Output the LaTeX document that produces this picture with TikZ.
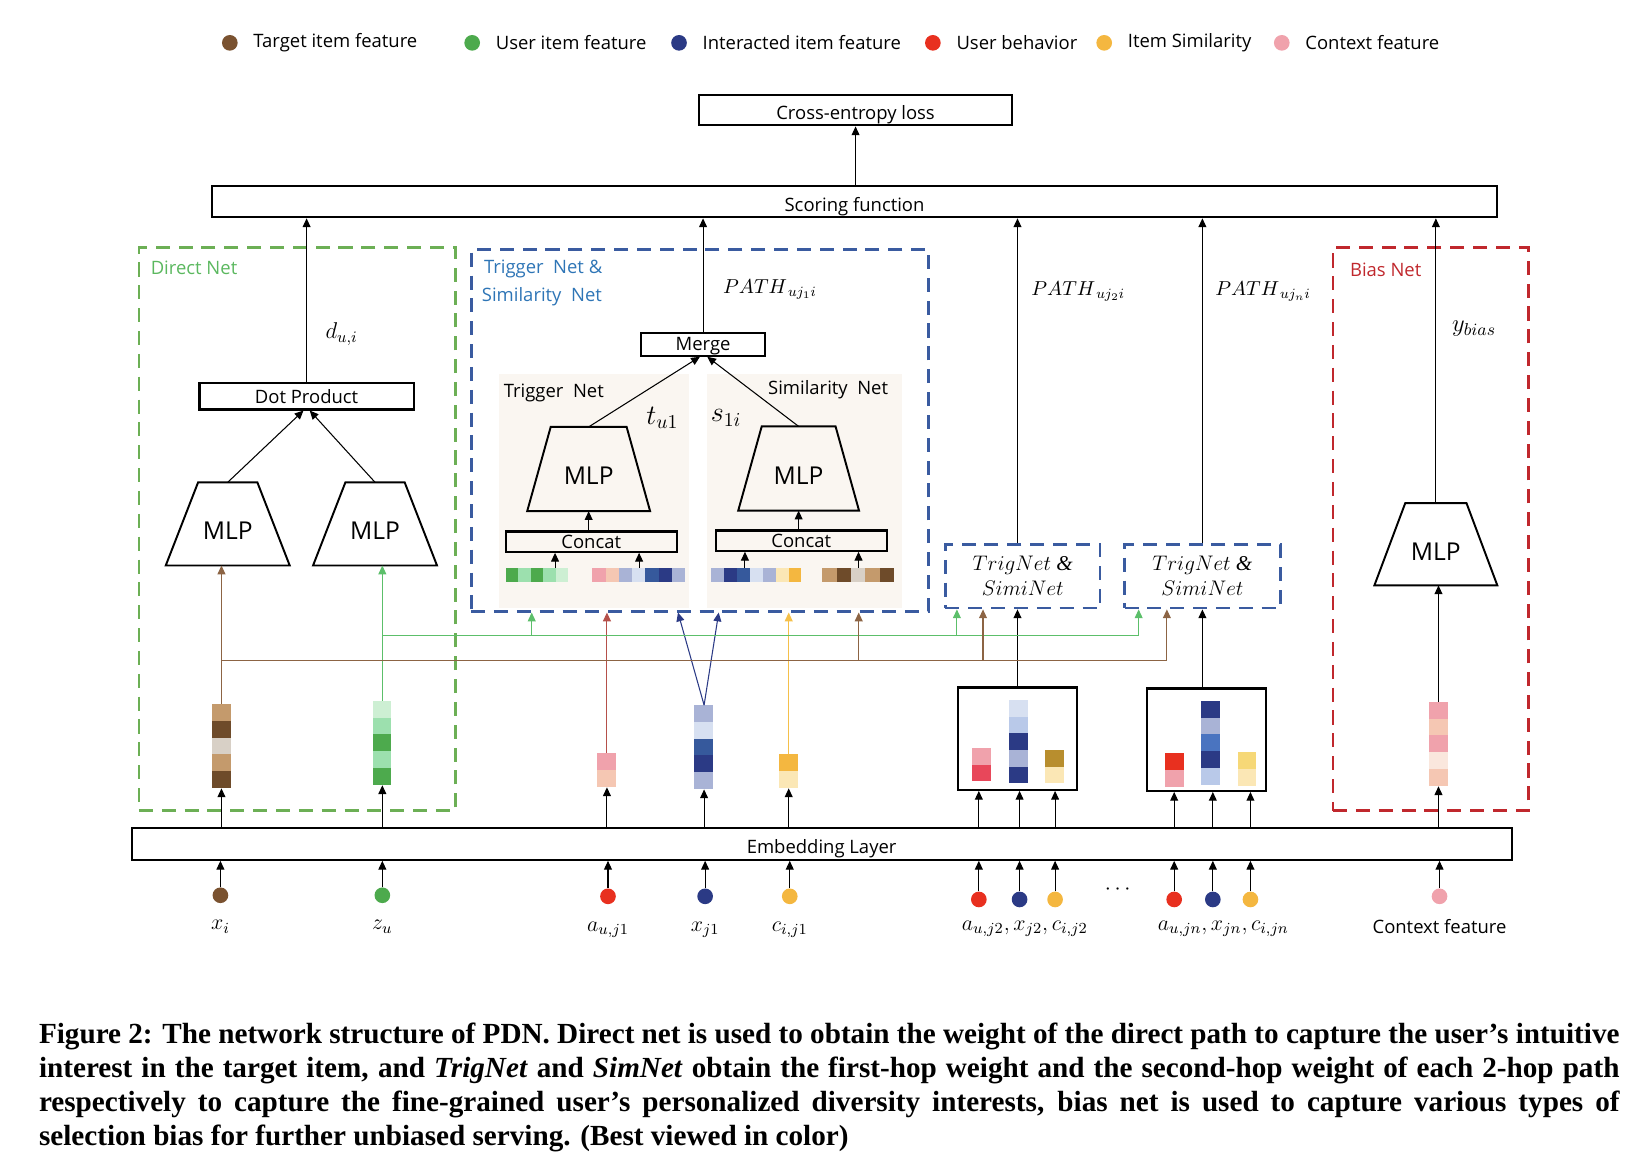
\RequirePackage{fix-cm}
\documentclass[tikz,border=0pt]{standalone}
\usepackage{fontspec}
\setmainfont{Liberation Serif}
\setsansfont{Open Sans}
\usetikzlibrary{arrows.meta,positioning,shapes.geometric,calc}

\newlength\px
\setlength\px{0.020893cm}

\definecolor{cDBrown}{HTML}{6E4B2A}
\definecolor{cLBrown}{HTML}{C49A6C}
\definecolor{cLGray}{HTML}{D8D0C6}
\definecolor{cGreen}{HTML}{4DAA4D}
\definecolor{cLGreen}{HTML}{9CE0AE}
\definecolor{cVLGreen}{HTML}{CDEFD3}
\definecolor{cNavy}{HTML}{2B3A85}
\definecolor{cBlue}{HTML}{36599C}
\definecolor{cMBlue}{HTML}{4A74C0}
\definecolor{cLav}{HTML}{A9B3D6}
\definecolor{cSky}{HTML}{B9C9E9}
\definecolor{cVLBlue}{HTML}{D7E0F1}
\definecolor{cRed}{HTML}{E8301F}
\definecolor{cRose}{HTML}{E8475A}
\definecolor{cOrange}{HTML}{F4B740}
\definecolor{cGold}{HTML}{B88E2E}
\definecolor{cSand}{HTML}{F6D877}
\definecolor{cLYellow}{HTML}{FBE7B5}
\definecolor{cPink}{HTML}{F0A2AC}
\definecolor{cPeach}{HTML}{F5C7B3}
\definecolor{cVLPeach}{HTML}{FAE7DD}
\definecolor{cBrownDot}{HTML}{7A5230}
\definecolor{cGreenL}{HTML}{5CBF6A}
\definecolor{cBrownL}{HTML}{8C6444}
\definecolor{cRedL}{HTML}{B5504A}
\definecolor{cOrangeL}{HTML}{F5C04A}
\definecolor{cDirect}{HTML}{6CAF55}
\definecolor{cDirectT}{HTML}{5BB85F}
\definecolor{cTrig}{HTML}{3A5BA0}
\definecolor{cTrigT}{HTML}{2E75B6}
\definecolor{cBias}{HTML}{C0282D}
\definecolor{cBg}{HTML}{FAF6F1}

\tikzset{
  lbl/.style={font=\sffamily\fontsize{10.5}{12}\selectfont},
  box/.style={draw, line width=1.2pt, inner sep=0pt, lbl, text height=9.5pt, text depth=2pt},
  widebox/.style={box, text height=12pt, text depth=1pt},
  mlp/.style={inner sep=0pt, text height=18pt, text depth=0pt,
    font=\sffamily\fontsize{14}{16}\selectfont},
  arr/.style={-{Triangle[length=5pt,width=4.5pt]}, line width=0.6pt},
  netbox/.style={draw, dash pattern=on 8pt off 5pt, line width=1.6pt, inner sep=0pt},
  dot/.style={circle, inner sep=0pt, minimum size=15*\px},
  mth/.style={font=\fontsize{12.5}{14}\selectfont, inner sep=0pt},
  bgbox/.style={fill=cBg, inner sep=0pt},
}

% trapezoid outline of an MLP node: name, inset of the top corners
\newcommand{\mlpshape}[2]{%
  \draw[line width=1.1pt] (#1.south west) -- (#1.south east)
    -- ([xshift=-#2*\px]#1.north east) -- ([xshift=#2*\px]#1.north west) -- cycle;
}
% vertical embedding: name, x, top, cells, colours
\newcommand{\vstack}[5]{%
  \node[inner sep=0pt, minimum width=18*\px, minimum height={#4*16*\px}, anchor=north] (#1) at (#2,#3) {};
  \foreach \c [count=\k from 0] in {#5}
    \fill[\c] ($(#1.north west)+(0,\k*16)$) rectangle ++(18,16);
}
% horizontal embedding: name, left, y, cells, cell width, colours
\newcommand{\hstack}[6]{%
  \node[inner sep=0pt, minimum width={#4*#5*\px}, minimum height=13*\px, anchor=west] (#1) at (#2,#3) {};
  \foreach \c [count=\k from 0] in {#6}
    \fill[\c] ($(#1.north west)+(\k*#5,0)$) rectangle ++(#5,13);
}

\begin{document}
\begin{tikzpicture}[x=0.020893cm, y=-0.020893cm]
  \useasboundingbox (0,0) rectangle (1568,1110);

  % legend
  \foreach \x/\c/\t [count=\i] in {220/cBrownDot/Target item feature,
      452/cGreen/User item feature, 650/cNavy/Interacted item feature,
      893/cRed/User behavior, 1057/cOrange/Item Similarity, 1227/cPink/Context feature} {
    \node[dot, fill=\c] (lg\i) at (\x,41) {};
    \node[lbl, inner sep=0pt, right=8.6pt of lg\i] (lt\i) {\t};
  }

  % top of the network
  \node[widebox, minimum width=300*\px, minimum height=29*\px] (loss) at (819,105.5) {Cross-entropy loss};
  \node[widebox, minimum width=1230*\px, minimum height=30*\px] (score) at (818,193) {Scoring function};
  \node[widebox, minimum width=1321*\px, minimum height=30*\px] (emb) at (786.5,808) {Embedding Layer};
  \draw[arr] (score.north -| loss) -- (loss.south);

  % direct net
  \node[netbox, draw=cDirect, minimum width=303*\px, minimum height=539*\px] (dnet) at (284.5,506.5) {};
  \node[lbl, text=cDirectT, anchor=west, inner sep=0pt] (dnetlbl) at (144,256) {Direct Net};
  \node[box, minimum width=205*\px, minimum height=25*\px] (dotp) at (293.5,379.5) {Dot Product};
  \node[mlp, minimum width=118*\px, minimum height=79*\px] (mlpA) at (218,501.5) {MLP};
  \node[mlp, minimum width=118*\px, minimum height=79*\px] (mlpB) at (359,501.5) {MLP};
  \mlpshape{mlpA}{31}
  \mlpshape{mlpB}{31}
  \node[mth, font=\fontsize{13}{15}\selectfont] (dui) at (327,320) {$d_{u,i}$};
  \draw[arr] (dotp.north) -- (dotp.north |- score.south);
  \draw[arr] (mlpA.north) -- ([xshift=-3*\px]dotp.south);
  \draw[arr] (mlpB.north) -- ([xshift=3*\px]dotp.south);
  \vstack{vA}{212}{674}{5}{cLBrown,cDBrown,cLGray,cLBrown,cDBrown}
  \vstack{vB}{366}{671}{5}{cVLGreen,cLGreen,cGreen,cLGreen,cGreen}
  \draw[arr, cBrownL] (vA.north) -- (vA.north |- mlpA.south);
  \draw[arr, cGreenL] (vB.north) -- (vB.north |- mlpB.south);

  % trigger net & similarity net
  \node[bgbox, minimum width=182*\px, minimum height=224*\px] (tbg) at (569,470) {};
  \node[bgbox, minimum width=186*\px, minimum height=224*\px] (sbg) at (770,470) {};
  \node[netbox, draw=cTrig, minimum width=438*\px, minimum height=346*\px] (tnet) at (670,412) {};
  \node[lbl, text=cTrigT, anchor=west, inner sep=0pt] (tnetlbl) at (463,257) {Trigger~ Net \&};
  \node[lbl, text=cTrigT, anchor=west, inner sep=0pt] (snetlbl) at (461,284) {Similarity~ Net};
  \node[lbl, anchor=west, inner sep=0pt] (tbglbl) at (482,376) {Trigger~ Net};
  \node[lbl, anchor=west, inner sep=0pt] (sbglbl) at (735,373) {Similarity~ Net};
  \node[box, minimum width=118*\px, minimum height=22*\px] (merge) at (673,329.5) {Merge};
  \node[mth, font=\fontsize{11.5}{14}\selectfont] (path1) at (737,277) {$PATH_{\,uj_1i}$};
  \draw[arr] (merge.north) -- (merge.north |- score.south);
  \node[mlp, minimum width=117*\px, minimum height=80*\px] (tmlp) at (563.5,449) {MLP};
  \node[mlp, minimum width=115*\px, minimum height=80*\px] (smlp) at (764.5,448.5) {MLP};
  \mlpshape{tmlp}{22.5}
  \mlpshape{smlp}{22.5}
  \node[mth, font=\fontsize{16}{18}\selectfont] (tu1) at (634,400) {$t_{u1}$};
  \node[mth, font=\fontsize{16}{18}\selectfont] (s1i) at (695,400) {$s_{1i}$};
  \draw[arr] (tmlp.north) -- ([xshift=-3*\px]merge.south);
  \draw[arr] (smlp.north) -- ([xshift=4*\px]merge.south);
  \node[box, minimum width=164*\px, minimum height=19*\px] (tcat) at (566,518.5) {Concat};
  \node[box, minimum width=164*\px, minimum height=19*\px] (scat) at (767,517.5) {Concat};
  \draw[arr] (tcat.north -| tmlp.south) -- (tmlp.south);
  \draw[arr] (scat.north -| smlp.south) -- (smlp.south);
  \hstack{tsA}{484}{550.5}{5}{12}{cGreen,cLGreen,cGreen,cLGreen,cVLGreen}
  \hstack{tsB}{567}{550.5}{7}{12.7}{cPink,cPeach,cLav,cVLBlue,cBlue,cNavy,cLav}
  \hstack{ssA}{681}{550.5}{7}{12.3}{cLav,cNavy,cBlue,cVLBlue,cLav,cLYellow,cOrange}
  \hstack{ssB}{787}{550.5}{5}{13.8}{cLBrown,cDBrown,cLGray,cLBrown,cDBrown}
  \coordinate (tsAt) at ($(tsA.north west)!0.78!(tsA.north east)$);
  \coordinate (ssAt) at ($(ssA.north west)!0.37!(ssA.north east)$);
  \draw[arr] (tsAt) -- (tsAt |- tcat.south);
  \draw[arr] (tsB.north) -- (tsB.north |- tcat.south);
  \draw[arr] (ssAt) -- (ssAt |- scat.south);
  \draw[arr] (ssB.north) -- (ssB.north |- scat.south);

  % first path inputs
  \vstack{vC}{581}{721}{2}{cPink,cPeach}
  \vstack{vD}{674}{675}{5}{cLav,cVLBlue,cBlue,cNavy,cLav}
  \vstack{vE}{755}{722}{2}{cOrange,cLYellow}
  \coordinate (nt1) at ([xshift=-21*\px]tnet.south);
  \coordinate (nt2) at ([xshift=18*\px]tnet.south);
  \draw[arr, cRedL] (vC.north) -- (vC.north |- tnet.south);
  \draw[arr, cNavy] (vD.north) -- (nt1);
  \draw[arr, cNavy] (vD.north) -- (nt2);
  \draw[arr, cOrangeL] (vE.north) -- (vE.north |- tnet.south);

  % other paths
  \node[netbox, draw=cTrig, minimum width=148*\px, minimum height=61*\px, align=center,
    font=\fontsize{12}{14.2}\selectfont] (trigA) at (979,551.5) {$TrigNet$ \textit{\&}\\$SimiNet$};
  \node[netbox, draw=cTrig, minimum width=149*\px, minimum height=61*\px, align=center,
    font=\fontsize{12}{14.2}\selectfont] (trigB) at (1151,551.5) {$TrigNet$ \textit{\&}\\$SimiNet$};
  \node[draw, line width=1.3pt, inner sep=0pt, minimum width=114*\px, minimum height=98*\px] (grp2) at (974,707) {};
  \node[draw, line width=1.3pt, inner sep=0pt, minimum width=114*\px, minimum height=98*\px] (grp3) at (1155,708) {};
  \vstack{v2a}{940}{716}{2}{cPink,cRose}
  \vstack{v2b}{975}{670}{5}{cVLBlue,cSky,cNavy,cLav,cNavy}
  \vstack{v2c}{1010}{718}{2}{cGold,cLYellow}
  \vstack{v3a}{1124.5}{721}{2}{cRed,cPink}
  \vstack{v3b}{1159}{671}{5}{cNavy,cLav,cMBlue,cNavy,cSky}
  \vstack{v3c}{1194}{720}{2}{cSand,cLYellow}
  \draw[arr] (grp2.north) -- (grp2.north |- trigA.south);
  \draw[arr] (grp3.north -| trigB.south) -- (trigB.south);
  \draw[arr] (grp2.north |- trigA.north) -- (grp2.north |- score.south);
  \draw[arr] (trigB.north) -- (trigB.north |- score.south);
  \node[mth, font=\fontsize{11.5}{14}\selectfont] (path2) at (1032,279) {$PATH_{\,uj_2i}$};
  \node[mth, font=\fontsize{11.5}{14}\selectfont] (pathn) at (1209,279) {$PATH_{\,uj_ni}$};

  % shared user and target features
  \coordinate (gy) at (0,608);
  \coordinate (by) at (0,632);
  \coordinate (g1) at (509,608);
  \coordinate (g2) at (916,608);
  \coordinate (g3) at (1090,608);
  \coordinate (b1) at (822,632);
  \coordinate (b2) at (941,632);
  \coordinate (b3) at (1117,632);
  \draw[cGreenL, line width=0.6pt] (vB |- gy) -- (g3);
  \draw[cBrownL, line width=0.6pt] (vA |- by) -- (b3);
  \draw[arr, cGreenL] (g1) -- (g1 |- tnet.south);
  \draw[arr, cGreenL] (g2) -- (g2 |- trigA.south);
  \draw[arr, cGreenL] (g3) -- (g3 |- trigB.south);
  \draw[arr, cBrownL] (b1) -- (b1 |- tnet.south);
  \draw[arr, cBrownL] (b2) -- (b2 |- trigA.south);
  \draw[arr, cBrownL] (b3) -- (b3 |- trigB.south);

  % bias net
  \node[netbox, draw=cBias, minimum width=187*\px, minimum height=539*\px] (bnet) at (1369.5,506.5) {};
  \node[lbl, text=cBias, anchor=west, inner sep=0pt] (bnetlbl) at (1292,258) {Bias Net};
  \node[mlp, minimum width=117*\px, minimum height=78*\px] (bmlp) at (1374.5,521) {MLP};
  \mlpshape{bmlp}{29.5}
  \node[mth, font=\fontsize{14}{16}\selectfont] (ybias) at (1411,315) {$y_{bias}$};
  \vstack{vF}{1377}{672}{5}{cPink,cPeach,cPink,cVLPeach,cPeach}
  \draw[arr] (vF.north) -- (vF.north |- bmlp.south);
  \draw[arr] (bmlp.north) -- (bmlp.north |- score.south);

  % inputs
  \node[dot, fill=cBrownDot] (iA) at (211,857) {};
  \node[dot, fill=cGreen] (iB) at (366,857) {};
  \node[dot, fill=cRed] (iC) at (582,858) {};
  \node[dot, fill=cNavy] (iD) at (675,858) {};
  \node[dot, fill=cOrange] (iE) at (756,858) {};
  \node[dot, fill=cRed] (i2a) at (937,861) {};
  \node[dot, fill=cNavy] (i2b) at (976,861) {};
  \node[dot, fill=cOrange] (i2c) at (1010,861) {};
  \node[dot, fill=cRed] (i3a) at (1124,861) {};
  \node[dot, fill=cNavy] (i3b) at (1161,861) {};
  \node[dot, fill=cOrange] (i3c) at (1197,861) {};
  \node[dot, fill=cPink] (iF) at (1378,858) {};
  \node[mth, below=9.5pt of iA] (lA) {$x_i$};
  \node[mth, below=9.5pt of iB] (lB) {$z_u$};
  \node[mth, below=9.5pt of iC] (lC) {$a_{u,j1}$};
  \node[mth, below=9.5pt of iD] (lD) {$x_{j1}$};
  \node[mth, below=9.5pt of iE] (lE) {$c_{i,j1}$};
  \node[mth] (l2) at (981,889) {$a_{u,j2},x_{j2},c_{i,j2}$};
  \node[mth] (l3) at (1171,889) {$a_{u,jn},x_{jn},c_{i,jn}$};
  \node[mth] (ldots) at (1070,852) {$\cdots$};
  \node[lbl, inner sep=0pt, below=8pt of iF] (lF) {Context feature};
  \foreach \n in {iA,iB,iC,iD,iE,i2a,i2b,i2c,i3a,i3b,i3c,iF}
    \draw[arr] (\n.north) -- (\n |- emb.south);
  \foreach \n in {vA,vB,vC,vD,vE,vF}
    \draw[arr] (\n.south |- emb.north) -- (\n.south);
  \foreach \n in {i2a,i2b,i2c}
    \draw[arr] (\n |- emb.north) -- (\n |- grp2.south);
  \foreach \n in {i3a,i3b,i3c}
    \draw[arr] (\n |- emb.north) -- (\n |- grp3.south);

  % caption
  \node[anchor=north west, inner sep=0pt, align=left,
    font=\rmfamily\bfseries\fontsize{16.6}{19.3}\selectfont] (cap) at (37,979) {%
    \makebox[1513\px][s]{Figure 2: The network structure of PDN. Direct net is used to obtain the weight of the direct path to capture the user’s intuitive}\\
    \makebox[1513\px][s]{interest in the target item, and \textit{TrigNet} and \textit{SimNet} obtain the first-hop weight and the second-hop weight of each 2-hop path}\\
    \makebox[1513\px][s]{respectively to capture the fine-grained user’s personalized diversity interests, bias net is used to capture various types of}\\
    selection bias for further unbiased serving. (Best viewed in color)};
\end{tikzpicture}
\end{document}
